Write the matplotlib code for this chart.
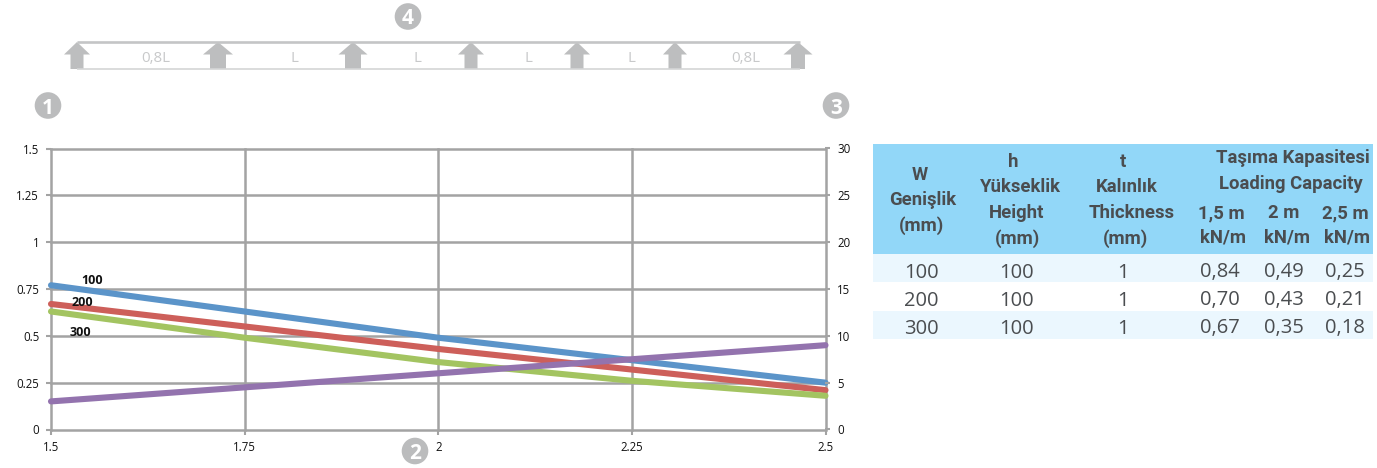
import matplotlib
matplotlib.use("Agg")
import matplotlib.pyplot as plt
from matplotlib.patches import Rectangle, Circle, Polygon

W, H = 1377, 468
x_vals = [1.5, 1.75, 2.0, 2.25, 2.5]
x_labels = ["1.5", "1.75", "2", "2.25", "2.5"]
s100 = [0.77, 0.63, 0.49, 0.37, 0.25]
s200 = [0.67, 0.55, 0.43, 0.32, 0.21]
s300 = [0.63, 0.49, 0.36, 0.26, 0.18]
s_right = [3.0, 4.5, 6.0, 7.5, 9.0]
left_ticks = [0, 0.25, 0.5, 0.75, 1, 1.25, 1.5]
left_labels = ["0", "0.25", "0.5", "0.75", "1", "1.25", "1.5"]
right_ticks = [0, 5, 10, 15, 20, 25, 30]

spans = ["0,8L", "L", "L", "L", "L", "0,8L"]
table_rows = [
    ["100", "100", "1", "0,84", "0,49", "0,25"],
    ["200", "100", "1", "0,70", "0,43", "0,21"],
    ["300", "100", "1", "0,67", "0,35", "0,18"],
]

fig = plt.figure(figsize=(W / 100, H / 100), dpi=100)
fig.patch.set_facecolor("white")

# overlay in pixel coordinates
ov = fig.add_axes([0, 0, 1, 1], zorder=5)
ov.set_xlim(0, W)
ov.set_ylim(H, 0)
ov.axis("off")
ov.patch.set_alpha(0)

# main chart
L, R, T, B = 51, 825.5, 148.5, 429.5
ax = fig.add_axes([L / W, 1 - B / H, (R - L) / W, (B - T) / H], zorder=2)
GRID = "#a3a3a3"
ax.set_xlim(1.5, 2.5)
ax.set_ylim(0, 1.5)
ax.set_xticks(x_vals, x_labels)
ax.set_yticks(left_ticks, left_labels)
ax.grid(True, color=GRID, lw=1.8, clip_on=False)
for gl in ax.get_xgridlines() + ax.get_ygridlines():
    gl.set_clip_on(False)
ax.set_axisbelow(True)
for s in ax.spines.values():
    s.set_visible(False)
ax.tick_params(axis="both", length=3.5, width=1.5, color=GRID, labelsize=8.3,
               labelcolor="#111111", pad=5)
for t in ax.get_xticklabels() + ax.get_yticklabels():
    t.set_family("Open Sans")
for y, c in zip([s100, s200, s300], ["#5b94c9", "#cd5f5a", "#a3c461"]):
    ax.plot(x_vals, y, color=c, lw=4.4, solid_capstyle="round", zorder=4, clip_on=False)

ax2 = ax.twinx()
ax2.set_ylim(0, 30)
ax2.set_yticks(right_ticks, [str(v) for v in right_ticks])
for s in ax2.spines.values():
    s.set_visible(False)
ax2.tick_params(axis="y", length=3.5, width=1.5, color=GRID, labelsize=8.3,
                labelcolor="#111111", pad=5)
for t in ax2.get_yticklabels():
    t.set_family("Open Sans")
ax2.plot(x_vals, s_right, color="#9373ae", lw=4.4, solid_capstyle="round", zorder=5, clip_on=False)

for txt, xp, yp in [("100", 92, 280), ("200", 82, 302), ("300", 80, 333)]:
    ov.text(xp, yp, txt, fontsize=9, fontweight="bold", family="Open Sans",
            ha="center", va="center", color="#111111")

# beam diagram
ARW = "#bdbebf"
ov.plot([77, 800], [41.5, 41.5], color="#c4c5c6", lw=1.9, solid_capstyle="butt")
ov.plot([77, 800], [68.5, 68.5], color="#d4d5d6", lw=1.2, solid_capstyle="butt")
arrows = [(77, 13, 6.5), (218, 15, 8), (353, 14.5, 8), (471, 13, 6.5),
          (577, 13, 6.5), (675, 12, 6.5), (798, 14.5, 7)]
for cx, hw, sw in arrows:
    ov.add_patch(Polygon([(cx, 42), (cx + hw, 54.5), (cx + sw, 54.5), (cx + sw, 69),
                          (cx - sw, 69), (cx - sw, 54.5), (cx - hw, 54.5)],
                         closed=True, fc=ARW, ec="none"))
for txt, xp in zip(spans, [156, 294, 417, 528, 631, 746]):
    ov.text(xp, 58, txt, fontsize=10.8, color="#c8c9ca", family="Open Sans",
            ha="center", va="center")

for n, cx, cy in [("4", 408, 16.5), ("1", 48, 105.5), ("3", 836, 105.5), ("2", 415, 451)]:
    ov.add_patch(Circle((cx, cy), 13.3, fc="#bbbcbd", ec="none"))
    ov.text(cx, cy, n, fontsize=15, fontweight="bold", color="white", family="Open Sans",
            ha="center", va="center_baseline")

# table
TXT = "#4a4d50"
ov.add_patch(Rectangle((873, 144), 500, 110, fc="#92d7f8", ec="none"))
ov.add_patch(Rectangle((873, 254), 500, 28, fc="#ebf7fe", ec="none"))
ov.add_patch(Rectangle((873, 311), 500, 28, fc="#ebf7fe", ec="none"))

def head(x, y, s, fs=13.3):
    ov.text(x, y, s, fontsize=fs, fontweight="bold", color=TXT, family="Roboto",
            ha="center", va="center")

for s, x, y in zip(["W", "Genişlik", "(mm)"], [920, 923, 921], [175, 200, 226]):
    head(x, y, s)
for s, x, y in zip(["h", "Yükseklik", "Height", "(mm)"], [1013, 1020, 1017, 1017], [162, 187, 213, 239]):
    head(x, y, s)
for s, x, y in zip(["t", "Kalınlık", "Thickness", "(mm)"], [1123, 1127, 1132, 1125], [162, 187, 213, 239]):
    head(x, y, s)
head(1293, 158, "Taşıma Kapasitesi")
head(1291, 184, "Loading Capacity")
for x, a in zip([1221, 1284, 1345], ["1,5 m", "2 m", "2,5 m"]):
    head(x, 213, a)
for x in [1223, 1287, 1347]:
    head(x, 238, "kN/m")

col_x = [921, 1016, 1123, 1220, 1284, 1345]
for row, y in zip(table_rows, [270, 298, 326]):
    for v, x in zip(row, col_x):
        ov.text(x, y, v, fontsize=14.5, color=TXT, family="Open Sans", ha="center", va="center_baseline")

fig.savefig("out.png", dpi=100)
